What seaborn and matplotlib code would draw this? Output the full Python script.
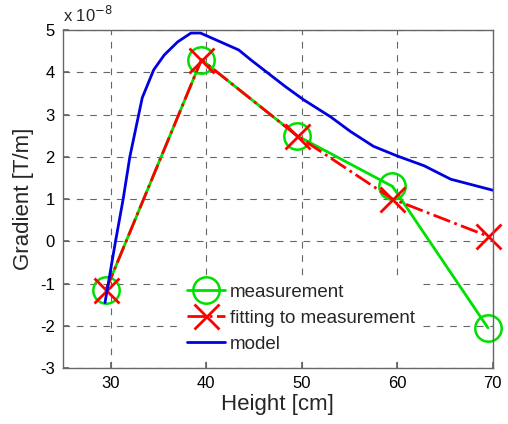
import matplotlib
matplotlib.use("Agg")
import matplotlib.pyplot as plt
import seaborn as sns

# ---------------------------------------------------------
# data (gradient values in units of 1e-8 T/m)
# ---------------------------------------------------------
height_meas = [29.5, 39.5, 49.5, 59.5, 69.5]
grad_meas = [-1.15, 4.3, 2.5, 1.3, -2.05]

height_fit = [29.5, 39.5, 49.5, 59.5, 69.5]
grad_fit = [-1.15, 4.3, 2.5, 1.0, 0.12]

height_model = [29.4, 30.5, 31.3, 32.0, 33.3, 34.5, 35.6, 37.0, 38.4, 39.4,
                43.4, 44.7, 48.3, 50.2, 53.0, 55.1, 57.5, 60.0, 62.8, 65.6, 70.0]
grad_model = [-1.45, 0.0, 1.0, 2.0, 3.4, 4.06, 4.41, 4.72, 4.93, 4.93,
              4.53, 4.29, 3.66, 3.35, 2.95, 2.6, 2.25, 2.02, 1.79, 1.47, 1.21]

x_ticks = [30, 40, 50, 60, 70]
y_ticks = [-3, -2, -1, 0, 1, 2, 3, 4, 5]

# ---------------------------------------------------------
# style
# ---------------------------------------------------------
sns.set_theme(style="ticks")
plt.rcParams['font.family'] = ['Liberation Sans', 'DejaVu Sans']
plt.rcParams['axes.unicode_minus'] = False

fig = plt.figure(figsize=(5.08, 4.24), dpi=100)
ax = fig.add_axes([0.124, 0.132, 0.846, 0.797])

sns.lineplot(x=height_meas, y=grad_meas, ax=ax, color='#00e000', linewidth=2,
             marker='o', markersize=19, markerfacecolor='none',
             markeredgecolor='#00e000', markeredgewidth=1.8,
             label='measurement', clip_on=False)
sns.lineplot(x=height_fit, y=grad_fit, ax=ax, color='#ff0000', linewidth=2,
             linestyle='-.', marker='x', markersize=18,
             markeredgecolor='#ff0000', markeredgewidth=2,
             label='fitting to measurement', clip_on=False)
sns.lineplot(x=height_model, y=grad_model, ax=ax, color='#0000e0', linewidth=2,
             label='model')

ax.set_xlim(25, 70)
ax.set_ylim(-3, 5)
ax.set_xticks(x_ticks)
ax.set_yticks(y_ticks)
ax.tick_params(direction='in', length=4, color='#666666', labelsize=12,
               labelcolor='black', pad=6)
for s in ax.spines.values():
    s.set_color('#666666')
    s.set_linewidth(1.0)
ax.grid(True, linestyle=(0, (6, 6)), color='#666666', linewidth=0.8)
ax.set_axisbelow(True)

ax.set_xlabel('Height [cm]', fontsize=16, labelpad=2)
ax.set_ylabel('Gradient [T/m]', fontsize=16, labelpad=4)
ax.text(0.0, 1.015, r'x 10$^{-8}$', transform=ax.transAxes, fontsize=12,
        ha='left', va='bottom')

leg = ax.legend(loc='center', bbox_to_anchor=(0.554, 0.148), fontsize=13.5,
                frameon=True, handlelength=2.0, handletextpad=0.3,
                labelspacing=0.47, borderpad=0.3)
leg.get_frame().set_facecolor('white')
leg.get_frame().set_edgecolor('none')
leg.get_frame().set_alpha(1)

plt.savefig('out.png', dpi=100)
plt.close()
